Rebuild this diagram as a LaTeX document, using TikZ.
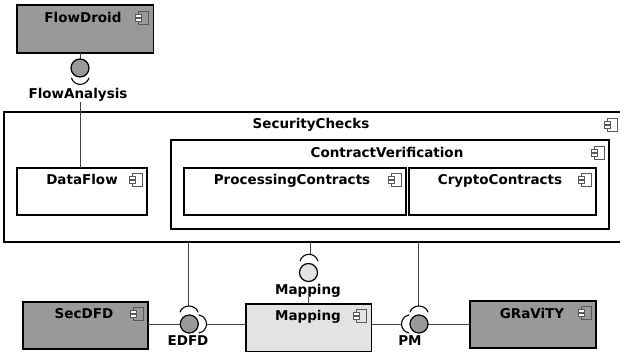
\documentclass[tikz,border=0pt]{standalone}
\usepackage{fontspec}
\setmainfont{DejaVu Sans}
\usetikzlibrary{calc}
\definecolor{dgrey}{HTML}{999999}
\definecolor{lgrey}{HTML}{E3E3E3}
\definecolor{wire}{HTML}{444444}
\tikzset{
  x=1pt,y=-1pt,
  compbox/.style={draw=black,line width=1.6pt,fill=white,inner sep=0pt,outer sep=0pt},
  title/.style={font=\bfseries\fontsize{13.5}{15}\selectfont,inner sep=0pt,text=black,anchor=base},
  wireline/.style={draw=wire,line width=0.9pt},
  ball/.style={circle,draw=black,line width=1.2pt,minimum size=18pt,inner sep=0pt,outer sep=0pt},
  sock/.style={draw=black,line width=1.1pt,line cap=round},
  icon/.style={draw=black!65,line width=0.45pt},
}
\newcommand{\boxat}[6]{% name, x0,y0,x1,y1, fill
  \node[compbox,fill=#6,anchor=north west,minimum width=#4pt-#2pt,minimum height=#5pt-#3pt] (#1) at (#2,#3) {};
}
\newcommand{\compicon}[2]{% right x, top y
  \draw[icon] (#1-10,#2) rectangle (#1,#2+13);
  \draw[icon,fill=white] (#1-13,#2+3) rectangle (#1-7,#2+6);
  \draw[icon,fill=white] (#1-13,#2+7.5) rectangle (#1-7,#2+10.5);
}
\begin{document}
\begin{tikzpicture}
\useasboundingbox (0,0) rectangle (620,356);
% boxes
\begin{scope}
\clip (0,0) rectangle (620,356);
\node[compbox,anchor=north west,minimum width=630pt,minimum height=130pt] (sec) at (4,112) {};
\end{scope}
\boxat{flow}{17}{5}{153.5}{53}{dgrey}
\boxat{data}{17}{168}{147}{215}{white}
\boxat{cv}{171}{140}{609}{229}{white}
\boxat{proc}{184}{168}{406}{215}{white}
\boxat{cryp}{409}{168}{596}{215}{white}
\boxat{secd}{23}{302}{148}{349}{dgrey}
\boxat{map}{246}{304}{371.5}{351.5}{lgrey}
\boxat{grav}{470}{301}{596}{348}{dgrey}
% titles
\node[title] (t1) at (83,22.7) {FlowDroid};
\node[title] (t2) at (311,128.5) {SecurityChecks};
\node[title] (t3) at (387,157) {ContractVerification};
\node[title] (t4) at (82,184.3) {DataFlow};
\node[title] (t5) at (292,184.3) {ProcessingContracts};
\node[title] (t6) at (500,184.3) {CryptoContracts};
\node[title] (t7) at (84,318.5) {SecDFD};
\node[title] (t8) at (308,320.7) {Mapping};
\node[title] (t9) at (532,318.3) {GRaViTY};
% icons
\compicon{148}{11}
\compicon{617}{118}
\compicon{604}{146}
\compicon{142}{173}
\compicon{401}{173}
\compicon{591}{173}
\compicon{143}{307}
\compicon{366}{309}
\compicon{591}{306}
% connectors
\coordinate (iflowc) at (80,68);
\coordinate (iedfdc) at (189.3,324);
\coordinate (ipmc) at (419,324);
\coordinate (a1) at (80,102);
\coordinate (a2) at (80,168);
\coordinate (b1) at (310,242);
\coordinate (b2) at (310,254);
\coordinate (c1) at (188,242);
\coordinate (c2) at (188,306);
\coordinate (d1) at (418,242);
\coordinate (d2) at (418,306);
\coordinate (e1) at (308,297);
\coordinate (e2) at (308,304);
\coordinate (f1) at (207,324);
\coordinate (g1) at (401,324);
\draw[wireline] (flow.south -| iflowc) -- (iflowc);
\draw[wireline] (a1) -- (a2);
\draw[wireline] (b1) -- (b2);
\draw[wireline] (c1) -- (c2);
\draw[wireline] (d1) -- (d2);
\draw[wireline] (e1) -- (e2);
\draw[wireline] (secd.east |- iedfdc) -- (iedfdc);
\draw[wireline] (f1) -- (map.west |- f1);
\draw[wireline] (map.east |- g1) -- (g1);
\draw[wireline] (ipmc) -- (grav.west |- ipmc);
% interface balls
\node[ball,fill=dgrey] (iflow) at (iflowc) {};
\node[ball,fill=lgrey] (imap) at (308.5,272.5) {};
\node[ball,fill=dgrey] (iedfd) at (iedfdc) {};
\node[ball,fill=dgrey] (ipm) at (ipmc) {};
% interface labels
\node[title] (lflow) at (78,98.7) {FlowAnalysis};
\node[title] (lmap) at (308,294.3) {Mapping};
\node[title] (ledfd) at (188,345.7) {EDFD};
\node[title] (lpm) at (410,345.7) {PM};
% sockets
\draw[sock] (71.5,78) .. controls (74,86.5) and (86,86.5) .. (89,78);
\draw[sock] (300,261) .. controls (303,252) and (315,252) .. (318,261);
\draw[sock] (180,312) .. controls (183,304) and (195,304) .. (198,312);
\draw[sock] (410,312) .. controls (413,304) and (425,304) .. (428,312);
\draw[sock] (199,315) .. controls (209,317) and (209,331) .. (199,333);
\draw[sock] (409,315) .. controls (399,317) and (399,331) .. (409,333);
\end{tikzpicture}
\end{document}
